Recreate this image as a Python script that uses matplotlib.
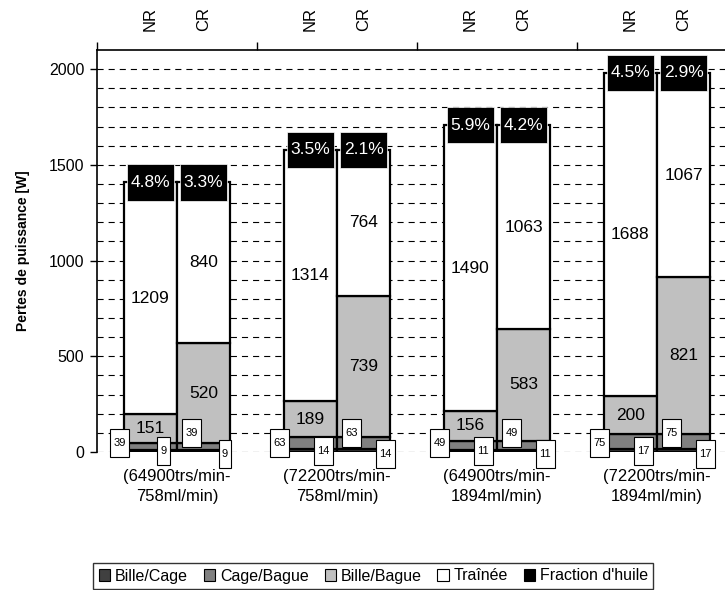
import matplotlib
matplotlib.use("Agg")
import matplotlib.pyplot as plt
from matplotlib.patches import Rectangle, Patch
import numpy as np

plt.rcParams['font.family'] = ['Liberation Sans', 'DejaVu Sans']

# donnees
conditions = ["(64900trs/min-\n758ml/min)", "(72200trs/min-\n758ml/min)",
              "(64900trs/min-\n1894ml/min)", "(72200trs/min-\n1894ml/min)"]
series = ["Bille/Cage", "Cage/Bague", "Bille/Bague", "Traînée", "Fraction d'huile"]

nr_bille_cage = [9, 14, 11, 17]
nr_cage_bague = [39, 63, 49, 75]
nr_bille_bague = [151, 189, 156, 200]
nr_trainee = [1209, 1314, 1490, 1688]
nr_huile_pct = [4.8, 3.5, 5.9, 4.5]

cr_bille_cage = [9, 14, 11, 17]
cr_cage_bague = [39, 63, 49, 75]
cr_bille_bague = [520, 739, 583, 821]
cr_trainee = [840, 764, 1063, 1067]
cr_huile_pct = [3.3, 2.1, 4.2, 2.9]

colors = ['#404040', '#808080', '#C0C0C0', 'white', 'black']

fig = plt.figure(figsize=(7.25, 5.9), dpi=100)
ax = fig.add_axes([97 / 725, 1 - 452 / 590, 1 - 97 / 725, (452 - 50) / 590])

x = np.arange(len(conditions))
w = 1 / 3
px = 160.0          # pixels par categorie
py = 0.191          # pixels par watt


def small_box(xc, yc, txt):
    # petite etiquette encadree (taille en pixels -> donnees)
    bw = (6.5 * len(txt) + 6) / px
    bh = 28 / py
    ax.add_patch(Rectangle((xc - bw / 2, yc - bh / 2), bw, bh, facecolor='white',
                           edgecolor='black', lw=0.8, zorder=6, clip_on=False))
    ax.text(xc, yc, txt, ha='center', va='center', fontsize=8, zorder=7, clip_on=False)


def pct_box(xc, yc, pct):
    # etiquette noire de la fraction d'huile, centree sur le haut de la barre
    bw = 47 / px
    bh = 36 / py
    ax.add_patch(Rectangle((xc - bw / 2, yc - bh / 2), bw, bh, facecolor='black',
                           edgecolor='white', lw=0.5, zorder=6, clip_on=False))
    ax.text(xc, yc, f"{pct:.1f}%", ha='center', va='center', fontsize=12.5,
            color='white', zorder=7, clip_on=False)


groups = [
    (x - w / 2, [nr_bille_cage, nr_cage_bague, nr_bille_bague, nr_trainee], nr_huile_pct,
     [(-0.36, 45), (-0.085, 5)]),
    (x + w / 2, [cr_bille_cage, cr_cage_bague, cr_bille_bague, cr_trainee], cr_huile_pct,
     [(0.09, 100), (0.30, -8)]),
]

for xpos, parts, pcts, offs in groups:
    bottom = np.zeros(len(x))
    for vals, col in zip(parts, colors[:4]):
        ax.bar(xpos, vals, w, bottom=bottom, color=col, edgecolor='black', lw=1.6, zorder=3)
        bottom = bottom + np.array(vals)
    total = bottom.copy()
    for i in range(len(x)):
        # etiquettes au centre des segments Bille/Bague et Traînee
        b = parts[0][i] + parts[1][i]
        ax.text(xpos[i], b + parts[2][i] / 2, str(parts[2][i]), ha='center', va='center',
                fontsize=12.5, zorder=5)
        b += parts[2][i]
        ax.text(xpos[i], b + parts[3][i] / 2, str(parts[3][i]), ha='center', va='center',
                fontsize=12.5, zorder=5)
        small_box(x[i] + offs[0][0], offs[0][1], str(parts[1][i]))
        small_box(x[i] + offs[1][0], offs[1][1], str(parts[0][i]))
        pct_box(xpos[i], total[i], pcts[i])

ax.set_xlim(-0.5, (725 - 97) / px - 0.5)
ax.set_ylim(0, 2100)
ax.set_yticks(np.arange(0, 2001, 500))
for yv in np.arange(0, 2001, 100):
    ax.axhline(yv, color='black', lw=0.8, ls=(0, (5.5, 4.5)), zorder=1)
ax.tick_params(axis='y', labelsize=11.5, length=5, width=1, pad=4)
ax.set_ylabel("Pertes de puissance [W]", fontsize=10, fontweight='bold', labelpad=14)

ax.set_xticks(x)
ax.set_xticklabels(conditions, fontsize=12, linespacing=1.45)
ax.tick_params(axis='x', length=0, pad=12)

for s in ['right', 'bottom']:
    ax.spines[s].set_visible(False)
ax.spines['left'].set_linewidth(1.2)
ax.spines['top'].set_linewidth(1.2)

top = ax.secondary_xaxis('top')
bar_pos = np.sort(np.concatenate([x - w / 2, x + w / 2]))
top.set_xticks(bar_pos)
top.set_xticklabels(["NR", "CR"] * len(x), rotation=90, fontsize=12)
top.set_xticks(np.arange(-0.5, len(x), 1.0), minor=True)
top.tick_params(which='major', length=0, pad=14)
top.tick_params(which='minor', length=6, width=1)
top.spines['top'].set_visible(False)

handles = [Patch(facecolor=c, edgecolor='black', lw=0.8) for c in colors]
fig.legend(handles, series, loc='center', bbox_to_anchor=(0.515, 1 - 576 / 590), ncol=5,
           fontsize=11.5, frameon=True, fancybox=False, edgecolor='black',
           handlelength=0.7, handleheight=0.7, handletextpad=0.3, columnspacing=1.0,
           borderpad=0.35)

fig.savefig("out.png", dpi=100)
